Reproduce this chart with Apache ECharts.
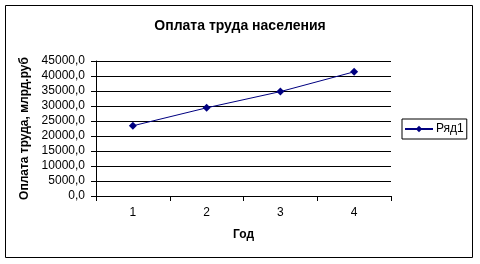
<!DOCTYPE html>
<html><head><meta charset="utf-8">
<script src="https://cdn.jsdelivr.net/npm/echarts@6/dist/echarts.min.js"></script>
<style>html,body{margin:0;padding:0;background:#fff}#c{width:480px;height:264px}</style>
</head><body><div id="c"></div>
<script>
var titleText = 'Оплата труда населения';
var categories = ['1', '2', '3', '4'];
var seriesName = 'Ряд1';
var values = [23400, 29400, 34800, 41400];
var yTicks = [0, 5000, 10000, 15000, 20000, 25000, 30000, 35000, 40000, 45000];
var xName = 'Год';
var yName = 'Оплата труда, млрд.руб';

var chart = echarts.init(document.getElementById('c'), null, {renderer: 'canvas'});
var font = 'Liberation Sans, Arial, sans-serif';
chart.setOption({
  animation: false,
  backgroundColor: '#fff',
  textStyle: {fontFamily: font},
  title: {text: titleText, left: 'center', top: 14, textStyle: {fontFamily: font, fontSize: 14, fontWeight: 'bold', color: '#000'}},
  graphic: [{type: 'rect', shape: {x: 5.5, y: 5.5, width: 467, height: 252}, style: {fill: 'none', stroke: '#000', lineWidth: 1}, silent: true, z: -1}],
  legend: {
    left: 402, top: 119, padding: [4, 3, 4, 2], itemWidth: 28, itemHeight: 8, itemGap: 4,
    borderColor: '#000', borderWidth: 1, borderRadius: 0,
    textStyle: {fontFamily: font, fontSize: 12, color: '#000', padding: [0, 0, 0, -2]},
    data: [seriesName]
  },
  grid: {left: 96, right: 89, top: 61, bottom: 68},
  xAxis: {
    type: 'category', data: categories, boundaryGap: true,
    name: xName, nameLocation: 'middle', nameGap: 33,
    nameTextStyle: {fontFamily: font, fontSize: 12, fontWeight: 'bold', color: '#000'},
    axisLine: {lineStyle: {color: '#000', width: 1}},
    axisTick: {show: true, length: 5, lineStyle: {color: '#000'}},
    axisLabel: {margin: 11, fontSize: 12, color: '#000', fontFamily: font},
    splitLine: {show: false}
  },
  yAxis: {
    type: 'value', min: yTicks[0], max: yTicks[yTicks.length - 1], interval: yTicks[1] - yTicks[0],
    name: yName, nameLocation: 'middle', nameGap: 62,
    nameTextStyle: {fontFamily: font, fontSize: 12, fontWeight: 'bold', color: '#000'},
    axisLine: {show: true, lineStyle: {color: '#000', width: 1}},
    axisTick: {show: true, length: 5, lineStyle: {color: '#000'}},
    axisLabel: {margin: 11, fontSize: 12, color: '#000', fontFamily: font, formatter: function (v) { return v.toFixed(1).replace('.', ','); }},
    splitLine: {show: true, lineStyle: {color: '#000', width: 1}}
  },
  series: [{
    name: seriesName, type: 'line', data: values,
    symbol: 'diamond', symbolSize: 8, showSymbol: true,
    lineStyle: {color: '#000080', width: 1},
    itemStyle: {color: '#000080'}
  }]
});
</script></body></html>
